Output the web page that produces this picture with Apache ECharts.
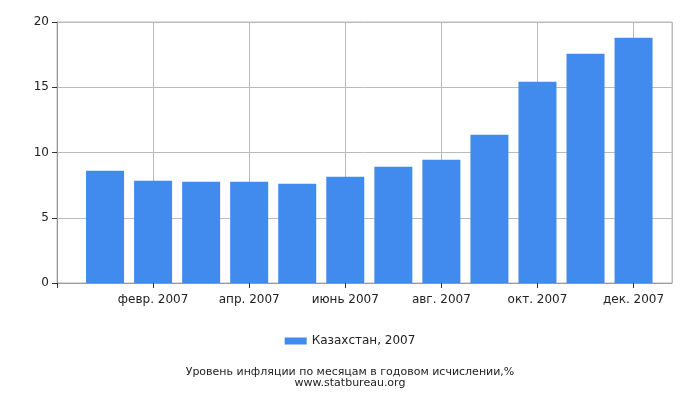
<!DOCTYPE html>
<html><head><meta charset="utf-8">
<script src="https://cdn.jsdelivr.net/npm/echarts@6/dist/echarts.min.js"></script>
<style>html,body{margin:0;padding:0;background:#fff}#c{width:700px;height:400px}</style>
</head><body><div id="c"></div>
<script>
var months = ['янв. 2007','февр. 2007','март 2007','апр. 2007','май 2007','июнь 2007','июль 2007','авг. 2007','сент. 2007','окт. 2007','нояб. 2007','дек. 2007'];
var values = [8.6, 7.84, 7.76, 7.76, 7.61, 8.14, 8.91, 9.45, 11.36, 15.42, 17.57, 18.8];
var seriesName = 'Казахстан, 2007';
var yTicks = [0, 5, 10, 15, 20];

var chart = echarts.init(document.getElementById('c'), null, {renderer:'canvas'});
chart.setOption({
  animation: false,
  textStyle: {fontFamily: 'DejaVu Sans'},
  grid: {left: 57, right: 28, top: 22, bottom: 117, show: true, borderColor: '#bbb', borderWidth: 1},
  xAxis: {
    type: 'value', min: -1, max: 11.8, interval: 2,
    axisLine: {onZero: false, lineStyle: {color: '#999'}},
    axisTick: {show: true, length: 5, lineStyle: {color: '#333'}},
    splitLine: {show: true, lineStyle: {color: '#bbb'}},
    axisLabel: {color: '#222', fontSize: 12, margin: 11, showMaxLabel: false,
      formatter: function (v) { return (Number.isInteger(v) && v >= 0) ? months[v] : ''; }}
  },
  yAxis: {
    type: 'value', min: yTicks[0], max: yTicks[yTicks.length-1], interval: 5,
    axisLine: {show: true, onZero: false, lineStyle: {color: '#999'}},
    axisTick: {show: true, length: 5, lineStyle: {color: '#333'}},
    splitLine: {lineStyle: {color: '#bbb'}},
    axisLabel: {color: '#222', fontSize: 12, margin: 8}
  },
  legend: {
    data: [seriesName], left: 'center', top: 330, itemWidth: 22, itemHeight: 7, itemGap: 4,
    icon: 'rect', textStyle: {color: '#222', fontSize: 12, fontFamily: 'DejaVu Sans'}
  },
  title: {
    text: 'Уровень инфляции по месяцам в годовом исчислении,%\nwww.statbureau.org',
    left: 'center', top: 362,
    textStyle: {fontSize: 11, fontWeight: 'normal', color: '#222', lineHeight: 11, fontFamily: 'DejaVu Sans'}
  },
  series: [{
    name: seriesName, type: 'bar', barWidth: 38,
    itemStyle: {color: '#418BEE'},
    data: values.map(function (v, i) { return [i, v]; })
  }]
});
</script></body></html>
